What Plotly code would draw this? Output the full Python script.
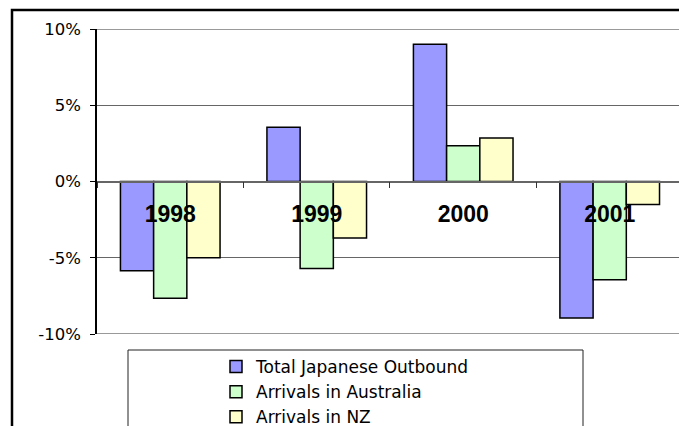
import plotly.graph_objects as go

# Year-on-year change in Japanese travel (percent)
years = ["1998", "1999", "2000", "2001"]
series_names = ["Total Japanese Outbound", "Arrivals in Australia", "Arrivals in NZ"]
total_outbound = [-5.85, 3.55, 9.0, -8.95]
arrivals_australia = [-7.65, -5.7, 2.35, -6.45]
arrivals_nz = [-5.0, -3.7, 2.85, -1.5]
y_ticks = [-10, -5, 0, 5, 10]
y_tick_labels = ["-10%", "-5%", "0%", "5%", "10%"]

colors = ["#9999FF", "#CCFFCC", "#FFFFCC"]
FONT = "Liberation Sans, Arial, sans-serif"
WIDE_FONT = "DejaVu Sans, Verdana, sans-serif"

fig = go.Figure()
for name, vals, col in zip(series_names, [total_outbound, arrivals_australia, arrivals_nz], colors):
    fig.add_trace(go.Bar(
        x=years, y=vals, name=name,
        marker=dict(color=col, line=dict(color="#000000", width=1.5)),
    ))

W, H = 679, 426
ml, mr, mt, mb = 97, 0, 29, 92
pw, ph = W - ml - mr, H - mt - mb


def px_x(p):
    return (p - ml) / pw


def px_y(p):
    return (H - mb - p) / ph


shapes = [
    # outer chart frame
    dict(type="rect", xref="paper", yref="paper",
         x0=px_x(12), x1=1.3, y0=px_y(10), y1=-0.6,
         line=dict(color="#000000", width=2.5), fillcolor="rgba(0,0,0,0)", layer="below"),
    # plot-area top/bottom edges
    dict(type="line", xref="paper", yref="y", x0=0, x1=1, y0=10, y1=10,
         line=dict(color="#999999", width=2)),
    dict(type="line", xref="paper", yref="y", x0=0, x1=1, y0=-10, y1=-10,
         line=dict(color="#999999", width=2)),
    # legend frame
    dict(type="rect", xref="paper", yref="paper",
         x0=px_x(128), x1=px_x(583), y0=px_y(350), y1=px_y(450),
         line=dict(color="#222222", width=1), fillcolor="rgba(0,0,0,0)"),
]

fig.update_layout(
    width=W, height=H,
    margin=dict(l=ml, r=mr, t=mt, b=mb, autoexpand=False),
    paper_bgcolor="white", plot_bgcolor="white",
    barmode="group", bargap=0.32, bargroupgap=0,
    font=dict(family=FONT, color="#000000"),
    showlegend=True,
    legend=dict(
        xref="container", yref="container",
        x=216 / W, y=(H - 349) / H, xanchor="left", yanchor="top",
        bgcolor="rgba(0,0,0,0)", borderwidth=0,
        font=dict(family=WIDE_FONT, size=17, color="#000000"),
        traceorder="normal", tracegroupgap=0,
    ),
    shapes=shapes,
    xaxis=dict(
        type="category", range=[-0.5, 3.473],
        anchor="free", position=0.5,
        showline=True, linecolor="#666666", linewidth=1.5,
        ticks="outside", tickson="boundaries", ticklen=6, tickcolor="#333333",
        showgrid=False, zeroline=False,
        tickfont=dict(family=FONT, size=23, color="#000000", weight="bold"),
        ticklabelstandoff=12,
    ),
    yaxis=dict(
        range=[-10, 10], tickmode="array", tickvals=y_ticks, ticktext=y_tick_labels,
        showline=True, linecolor="#000000", linewidth=1.5,
        ticks="outside", ticklen=5, tickcolor="#000000",
        showgrid=True, gridcolor="#666666", gridwidth=1.3,
        zeroline=False,
        tickfont=dict(family=WIDE_FONT, size=16.5, color="#000000"),
        ticklabelstandoff=6,
    ),
)

fig.write_html("out.html")
